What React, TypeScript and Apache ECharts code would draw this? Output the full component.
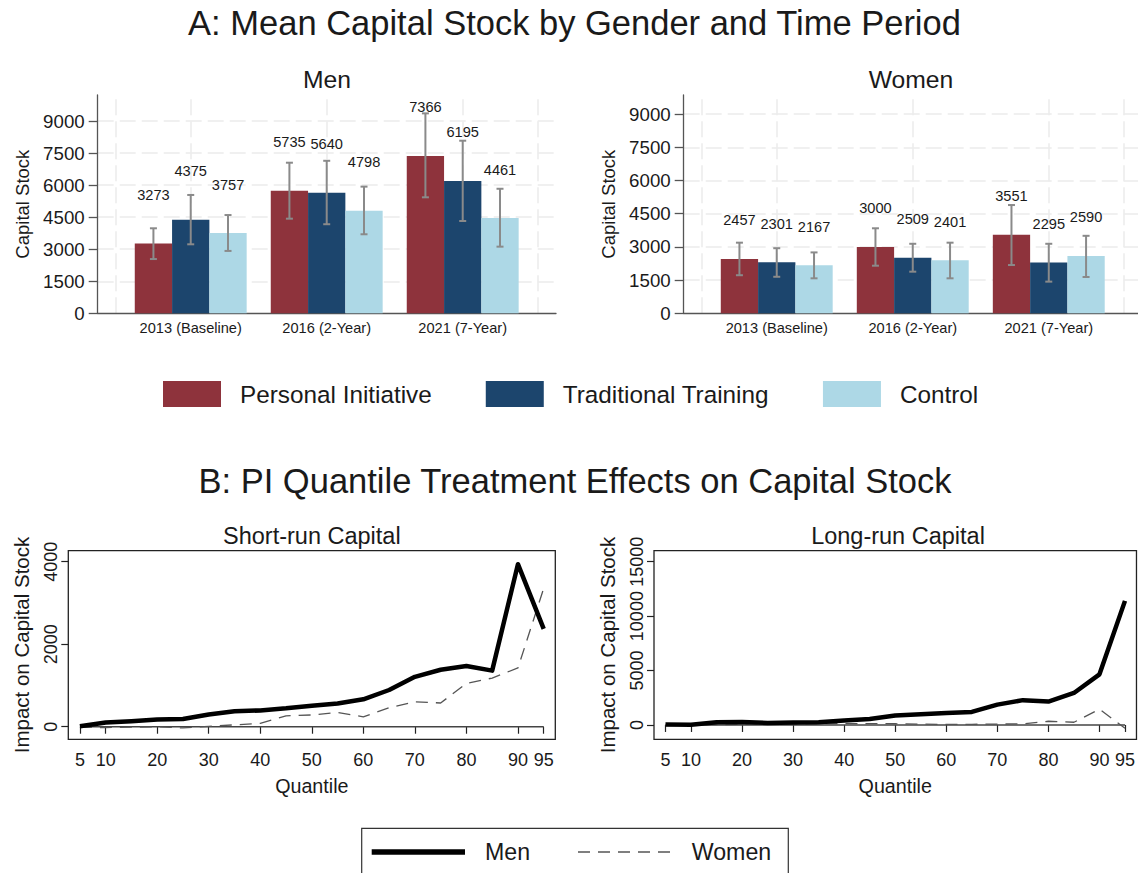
import { useEffect, useRef } from 'react';
import * as echarts from 'echarts';

// ---------------- Data ----------------
const categories = ['2013 (Baseline)', '2016 (2-Year)', '2021 (7-Year)'];
const groupNames = ['Personal Initiative', 'Traditional Training', 'Control'];

const menPI = [3273, 5735, 7366];
const menTT = [4375, 5640, 6195];
const menCtrl = [3757, 4798, 4461];
const menPILo = [2540, 4430, 5430];
const menPIHi = [3980, 7050, 9360];
const menTTLo = [3230, 4170, 4320];
const menTTHi = [5540, 7140, 8080];
const menCtrlLo = [2920, 3700, 3120];
const menCtrlHi = [4600, 5930, 5830];

const womenPI = [2457, 3000, 3551];
const womenTT = [2301, 2509, 2295];
const womenCtrl = [2167, 2401, 2590];
const womenPILo = [1720, 2150, 2180];
const womenPIHi = [3190, 3840, 4890];
const womenTTLo = [1650, 1880, 1430];
const womenTTHi = [2940, 3140, 3140];
const womenCtrlLo = [1580, 1580, 1640];
const womenCtrlHi = [2750, 3190, 3500];

const barTicks = [0, 1500, 3000, 4500, 6000, 7500, 9000];

const quantiles = [5, 10, 15, 20, 25, 30, 35, 40, 45, 50, 55, 60, 65, 70, 75, 80, 85, 90, 95];
const quantileTicks = [5, 10, 20, 30, 40, 50, 60, 70, 80, 90, 95];
const srMen = [10, 100, 135, 175, 185, 295, 375, 395, 445, 510, 565, 665, 890, 1210, 1380, 1470, 1360, 3940, 2370];
const srWomen = [-15, -20, -10, 0, -30, 10, 45, 80, 265, 285, 345, 240, 460, 605, 575, 1050, 1180, 1425, 3355];
const lrMen = [50, 30, 245, 275, 185, 215, 245, 400, 550, 870, 980, 1100, 1200, 1870, 2280, 2150, 2940, 4650, 11400];
const lrWomen = [-50, -30, 30, 60, 60, 80, 100, 120, 130, 110, 80, 50, 60, 80, 100, 340, 250, 1450, -310];
const srTicks = [0, 2000, 4000];
const lrTicks = [0, 5000, 10000, 15000];

// ---------------- Style ----------------
const FONT = '"Liberation Sans", Arial, Helvetica, sans-serif';
const TXT = '#1a1a1a';
const COLORS = ['#8E333C', '#1C456D', '#ADD8E6'];
const BAR_W = 37.3;
const ERR_COLOR = '#8a8a8a';
const GRID_COLOR = '#ebebeb';
const gridXs = [0.45, 1, 2, 3, 3.55];

const pos = [1, 2, 3];
const toPairs = (vals: number[]) => vals.map((v, i) => [pos[i], v]);
const toCI = (lo: number[], hi: number[]) => lo.map((v, i) => [pos[i], v, hi[i]]);
const zip = (xs: number[], ys: number[]) => xs.map((x, i) => [x, ys[i]]);
const plain = (v: number) => String(v);

function errorSeries(axis: number, lo: number[], hi: number[], k: number) {
  const off = (k - 1) * BAR_W;
  return {
    type: 'custom',
    name: 'ci' + axis + '_' + k,
    xAxisIndex: axis,
    yAxisIndex: axis,
    z: 5,
    silent: true,
    encode: { x: 0, y: [1, 2] },
    data: toCI(lo, hi),
    renderItem: (_p: any, api: any) => {
      const x = api.value(0);
      const a = api.coord([x, api.value(1)]);
      const b = api.coord([x, api.value(2)]);
      const cx = a[0] + off;
      const st = { stroke: ERR_COLOR, lineWidth: 2 };
      const cap = 3.5;
      return {
        type: 'group',
        children: [
          { type: 'line', shape: { x1: cx, y1: a[1], x2: cx, y2: b[1] }, style: st },
          { type: 'line', shape: { x1: cx - cap, y1: a[1], x2: cx + cap, y2: a[1] }, style: st },
          { type: 'line', shape: { x1: cx - cap, y1: b[1], x2: cx + cap, y2: b[1] }, style: st },
        ],
      };
    },
  };
}

function barSeries(axis: number, vals: number[], k: number, dist: number) {
  return {
    type: 'bar',
    name: groupNames[k],
    xAxisIndex: axis,
    yAxisIndex: axis,
    barWidth: BAR_W,
    barGap: '0%',
    z: 3,
    itemStyle: { color: COLORS[k] },
    label: {
      show: true,
      position: 'top',
      distance: dist,
      fontSize: 14.6,
      fontFamily: FONT,
      color: TXT,
      formatter: (p: any) => String(p.value[1]),
    },
    data: toPairs(vals),
  };
}

function gridDecor(axis: number) {
  return {
    type: 'line',
    name: 'grid' + axis,
    xAxisIndex: axis,
    yAxisIndex: axis,
    data: [],
    z: 0,
    zlevel: 0,
    silent: true,
    markLine: {
      silent: true,
      z: 0,
      symbol: ['none', 'none'],
      label: { show: false },
      lineStyle: { color: GRID_COLOR, width: 1.5, type: [16, 6] },
      data: [
        ...barTicks.filter((v) => v > 0).map((v) => ({ yAxis: v })),
        ...gridXs.map((v) => ({ xAxis: v })),
      ],
    },
  };
}

function barYAxis(axis: number, max: number) {
  return {
    type: 'value',
    gridIndex: axis,
    min: 0,
    max,
    name: 'Capital Stock',
    nameLocation: 'middle',
    nameGap: 66,
    nameTextStyle: { fontSize: 18.5, fontFamily: FONT, color: TXT },
    axisLine: { show: true, lineStyle: { color: '#555', width: 1.3 } },
    axisTick: { show: true, customValues: barTicks, length: 9, lineStyle: { color: '#555', width: 1.3 } },
    axisLabel: { customValues: barTicks, formatter: plain, fontSize: 18.7, fontFamily: FONT, color: TXT, margin: 13 },
    splitLine: { show: false },
  };
}

function barXAxis(axis: number, max: number) {
  return {
    type: 'value',
    gridIndex: axis,
    min: 0.316,
    max,
    axisLine: { show: true, onZero: true, lineStyle: { color: '#555', width: 1.3 } },
    axisTick: { show: false },
    axisLabel: {
      customValues: pos,
      formatter: (v: number) => categories[Math.round(v) - 1] ?? '',
      fontSize: 14.6,
      fontFamily: FONT,
      color: TXT,
      margin: 7,
    },
    splitLine: { show: false },
  };
}

function qXAxis(axis: number) {
  return {
    type: 'value',
    gridIndex: axis,
    min: 2.75,
    max: 97.25,
    name: 'Quantile',
    nameLocation: 'middle',
    nameGap: 37,
    nameTextStyle: { fontSize: 19.7, fontFamily: FONT, color: TXT },
    axisLine: { show: false },
    axisTick: { show: true, customValues: quantileTicks, length: 7, lineStyle: { color: '#222', width: 1.2 } },
    axisLabel: { customValues: quantileTicks, formatter: plain, hideOverlap: false, fontSize: 18, fontFamily: FONT, color: TXT, margin: 12 },
    splitLine: { show: false },
  };
}

function qYAxis(axis: number, min: number, max: number, ticks: number[]) {
  return {
    type: 'value',
    gridIndex: axis,
    min,
    max,
    name: 'Impact on Capital Stock',
    nameLocation: 'middle',
    nameGap: 36,
    nameTextStyle: { fontSize: 20.5, fontFamily: FONT, color: TXT },
    axisLine: { show: false },
    axisTick: { show: true, customValues: ticks, length: 7, lineStyle: { color: '#222', width: 1.2 } },
    axisLabel: {
      customValues: ticks,
      formatter: plain,
      hideOverlap: false,
      showMinLabel: true,
      showMaxLabel: true,
      rotate: 90,
      fontSize: 18,
      fontFamily: FONT,
      color: TXT,
      margin: 8,
    },
    splitLine: { show: false },
  };
}

function qSeries(axis: number, men: number[], women: number[]) {
  return [
    {
      type: 'line',
      name: 'zero' + axis,
      xAxisIndex: axis,
      yAxisIndex: axis,
      data: [
        [quantiles[0], 0],
        [quantiles[quantiles.length - 1], 0],
      ],
      showSymbol: false,
      silent: true,
      z: 1,
      lineStyle: { color: '#444', width: 1.6 },
    },
    {
      type: 'line',
      name: 'women' + axis,
      xAxisIndex: axis,
      yAxisIndex: axis,
      data: zip(quantiles, women),
      showSymbol: false,
      silent: true,
      z: 2,
      lineStyle: { color: '#555', width: 1.3, type: [12, 8] },
    },
    {
      type: 'line',
      name: 'men' + axis,
      xAxisIndex: axis,
      yAxisIndex: axis,
      data: zip(quantiles, men),
      showSymbol: false,
      silent: true,
      z: 3,
      lineStyle: { color: '#000', width: 4.5, join: 'round' },
    },
  ];
}

const titleText = (text: string, x: number, y: number, size: number) => ({
  type: 'text',
  x,
  y,
  silent: true,
  style: {
    text,
    fill: TXT,
    fontSize: size,
    fontFamily: FONT,
    align: 'center',
    verticalAlign: 'middle',
  },
});

const option: any = {
  animation: false,
  backgroundColor: '#fff',
  textStyle: { fontFamily: FONT },
  grid: [
    { left: 97.7, top: 95, width: 458.3, height: 218.3 },
    { left: 683.7, top: 95, width: 454.3, height: 218.3 },
    { left: 68.3, top: 550.7, width: 487, height: 188.6, show: true, borderColor: '#222', borderWidth: 1.3, backgroundColor: 'transparent' },
    { left: 654, top: 550.7, width: 488.5, height: 188.6, show: true, borderColor: '#222', borderWidth: 1.3, backgroundColor: 'transparent' },
  ],
  xAxis: [barXAxis(0, 3.686), barXAxis(1, 3.656), qXAxis(2), qXAxis(3)],
  yAxis: [barYAxis(0, 10220), barYAxis(1, 9860), qYAxis(2, -305, 4267, srTicks), qYAxis(3, -1317, 16010, lrTicks)],
  legend: {
    left: 163,
    top: 381,
    padding: 0,
    itemWidth: 58,
    itemHeight: 26,
    itemGap: 54,
    icon: 'rect',
    selectedMode: false,
    data: groupNames,
    textStyle: { fontSize: 24.3, fontFamily: FONT, color: TXT, padding: [0, 0, 0, 14] },
  },
  graphic: [
    titleText('A: Mean Capital Stock by Gender and Time Period', 574.5, 23, 34.5),
    titleText('Men', 327, 79, 24.7),
    titleText('Women', 911, 79, 24.7),
    titleText('B: PI Quantile Treatment Effects on Capital Stock', 575, 481, 34.5),
    titleText('Short-run Capital', 311.8, 536, 23.5),
    titleText('Long-run Capital', 898, 536, 23.5),
    {
      type: 'rect',
      shape: { x: 361.7, y: 828.3, width: 426.6, height: 60 },
      style: { fill: '#fff', stroke: '#333', lineWidth: 1.2 },
      silent: true,
    },
    {
      type: 'line',
      shape: { x1: 371.7, y1: 852, x2: 465, y2: 852 },
      style: { stroke: '#000', lineWidth: 5.5 },
      silent: true,
    },
    {
      type: 'line',
      shape: { x1: 578, y1: 852, x2: 672, y2: 852 },
      style: { stroke: '#555', lineWidth: 1.3, lineDash: [12, 8] },
      silent: true,
    },
    {
      type: 'text',
      x: 485,
      y: 852,
      silent: true,
      style: { text: 'Men', fill: TXT, fontSize: 23.2, fontFamily: FONT, align: 'left', verticalAlign: 'middle' },
    },
    {
      type: 'text',
      x: 691.7,
      y: 852,
      silent: true,
      style: { text: 'Women', fill: TXT, fontSize: 23.2, fontFamily: FONT, align: 'left', verticalAlign: 'middle' },
    },
  ],
  series: [
    gridDecor(0),
    gridDecor(1),
    barSeries(0, menPI, 0, 41),
    barSeries(0, menTT, 1, 41),
    barSeries(0, menCtrl, 2, 41),
    barSeries(1, womenPI, 0, 31),
    barSeries(1, womenTT, 1, 31),
    barSeries(1, womenCtrl, 2, 31),
    errorSeries(0, menPILo, menPIHi, 0),
    errorSeries(0, menTTLo, menTTHi, 1),
    errorSeries(0, menCtrlLo, menCtrlHi, 2),
    errorSeries(1, womenPILo, womenPIHi, 0),
    errorSeries(1, womenTTLo, womenTTHi, 1),
    errorSeries(1, womenCtrlLo, womenCtrlHi, 2),
    ...qSeries(2, srMen, srWomen),
    ...qSeries(3, lrMen, lrWomen),
  ],
};

export default function App() {
  const ref = useRef<HTMLDivElement>(null);
  useEffect(() => {
    document.body.style.margin = '0';
    const chart = echarts.init(ref.current!, null, { renderer: 'svg' });
    chart.setOption(option);
    return () => chart.dispose();
  }, []);
  return <div ref={ref} style={{ width: 1138, height: 873 }} />;
}
